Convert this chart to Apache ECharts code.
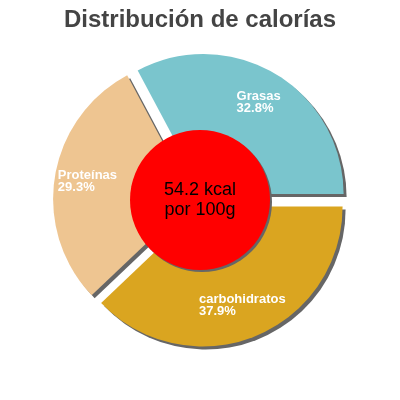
<!DOCTYPE html>
<html>
<head>
<meta charset="utf-8">
<script src="https://cdn.jsdelivr.net/npm/echarts@6/dist/echarts.min.js"></script>
<style>
html,body{margin:0;padding:0;background:#fff;}
#c{width:400px;height:400px;}
</style>
</head>
<body>
<div id="c"></div>
<script>
const title = 'Distribución de calorías';
const categories = ['Grasas', 'Proteínas', 'carbohidratos'];
const percents = [32.8, 29.3, 37.9];
const colors = ['#7AC5CD', '#EEC591', '#DAA520'];
const centerText = ['54.2 kcal', 'por 100g'];

const FONT = '"Liberation Sans", Arial, sans-serif';
const chart = echarts.init(document.getElementById('c'), null, {renderer: 'canvas'});

const sliceData = categories.map((name, i) => ({
  name: name,
  value: percents[i],
  selected: true,
  itemStyle: {color: colors[i]},
  select: {itemStyle: {color: colors[i]}}
}));

const labelData = categories.map((name, i) => ({
  name: name,
  value: percents[i]
}));

chart.setOption({
  animation: false,
  title: {
    text: title,
    left: 'center',
    top: 3,
    textStyle: {fontFamily: FONT, fontSize: 24, fontWeight: 'bold', color: '#444444'}
  },
  series: [
    {
      type: 'pie',
      center: [200, 200],
      radius: [0, 140],
      startAngle: 0,
      clockwise: false,
      selectedMode: 'multiple',
      selectedOffset: 7,
      silent: true,
      label: {show: false},
      labelLine: {show: false},
      itemStyle: {
        borderWidth: 0,
        shadowColor: '#666666',
        shadowBlur: 0,
        shadowOffsetX: 3,
        shadowOffsetY: 3
      },
      select: {itemStyle: {borderWidth: 0, shadowColor: '#666666', shadowBlur: 0, shadowOffsetX: 3, shadowOffsetY: 3}},
      data: sliceData,
      z: 1
    },
    {
      type: 'pie',
      center: [200, 200],
      radius: [82, 140],
      startAngle: 0,
      clockwise: false,
      silent: true,
      itemStyle: {color: 'rgba(0,0,0,0)'},
      labelLine: {show: false},
      label: {
        show: true,
        position: 'inside',
        formatter: p => '{a|' + p.name + '}\n{a|' + p.value.toFixed(1) + '%}',
        rich: {
          a: {align: 'left', color: '#ffffff', fontFamily: FONT, fontSize: 13, fontWeight: 'bold', lineHeight: 12}
        }
      },
      data: labelData,
      z: 2
    },
    {
      type: 'pie',
      center: [200, 200],
      radius: [0, 70],
      silent: true,
      itemStyle: {
        color: '#ff0000',
        shadowColor: '#666666',
        shadowBlur: 0,
        shadowOffsetX: 2,
        shadowOffsetY: 2
      },
      label: {
        show: true,
        position: 'center',
        formatter: centerText.join('\n'),
        color: '#000000',
        fontFamily: FONT,
        fontSize: 18,
        lineHeight: 20
      },
      labelLine: {show: false},
      data: [{name: 'total', value: 1}],
      z: 3
    }
  ]
});
</script>
</body>
</html>
